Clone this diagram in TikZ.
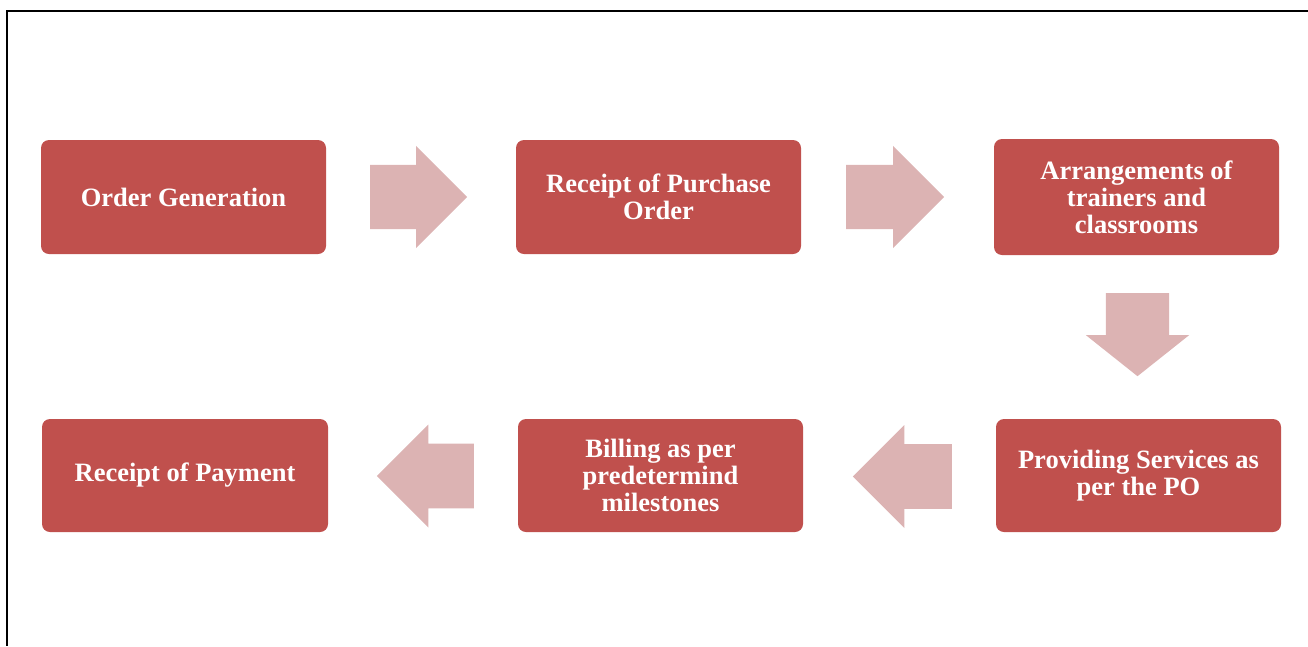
\documentclass[tikz,border=0pt]{standalone}
\usepackage{fontspec}
\setmainfont{Liberation Serif}
\usetikzlibrary{shapes.arrows}
\definecolor{stagered}{RGB}{192,80,77}
\definecolor{flowpink}{RGB}{220,179,179}

\begin{document}
\begin{tikzpicture}[
      x=1pt, y=-1pt,
      stage/.style={fill=stagered, rounded corners=8pt, align=center, text=white,
        font=\fontsize{26.5}{27}\selectfont\bfseries,
        minimum width=285pt, minimum height=114pt, inner sep=0pt},
      flow/.style={single arrow, fill=flowpink, inner xsep=0pt, inner ysep=32pt,
        minimum height=97pt, minimum width=102pt, anchor=tail,
        single arrow head extend=19pt, single arrow head indent=0pt}
    ]
      \useasboundingbox (0,0) rectangle (1308,646);
      \draw[line width=2pt] (1308,11) -- (7,11) -- (7,646);
      % top row
      \node[stage] (gen) at (183.5,197) {Order Generation};
      \node[stage] (po) at (658.5,197) {Receipt of Purchase\\Order};
      \node[stage, minimum height=116pt] (arr) at (1136.5,197) {Arrangements of\\trainers and\\classrooms};
      % bottom row
      \node[stage, minimum height=113pt] (serv) at (1138.5,475.5) {Providing Services as\\per the PO};
      \node[stage, minimum height=113pt] (bill) at (660.5,475.5) {Billing as per\\predetermind\\milestones};
      \node[stage, minimum height=113pt, minimum width=286pt] (pay) at (185,475.5) {Receipt of Payment};
      % block arrows (placed by their tails)
      \node[flow] (genpo) at (370,197) {};
      \node[flow, minimum height=98pt] (poarr) at (846,197) {};
      \node[flow, shape border rotate=270, inner xsep=31.5pt, inner ysep=0pt,
        minimum height=83pt, minimum width=103pt,
        single arrow head extend=20pt, single arrow tip angle=103] (arrserv) at (1137.5,293) {};
      \node[flow, shape border rotate=180, minimum height=99pt, minimum width=103pt] (servbill) at (952,476.5) {};
      \node[flow, shape border rotate=180, minimum width=103pt] (billpay) at (474,476) {};
    \end{tikzpicture}
\end{document}
